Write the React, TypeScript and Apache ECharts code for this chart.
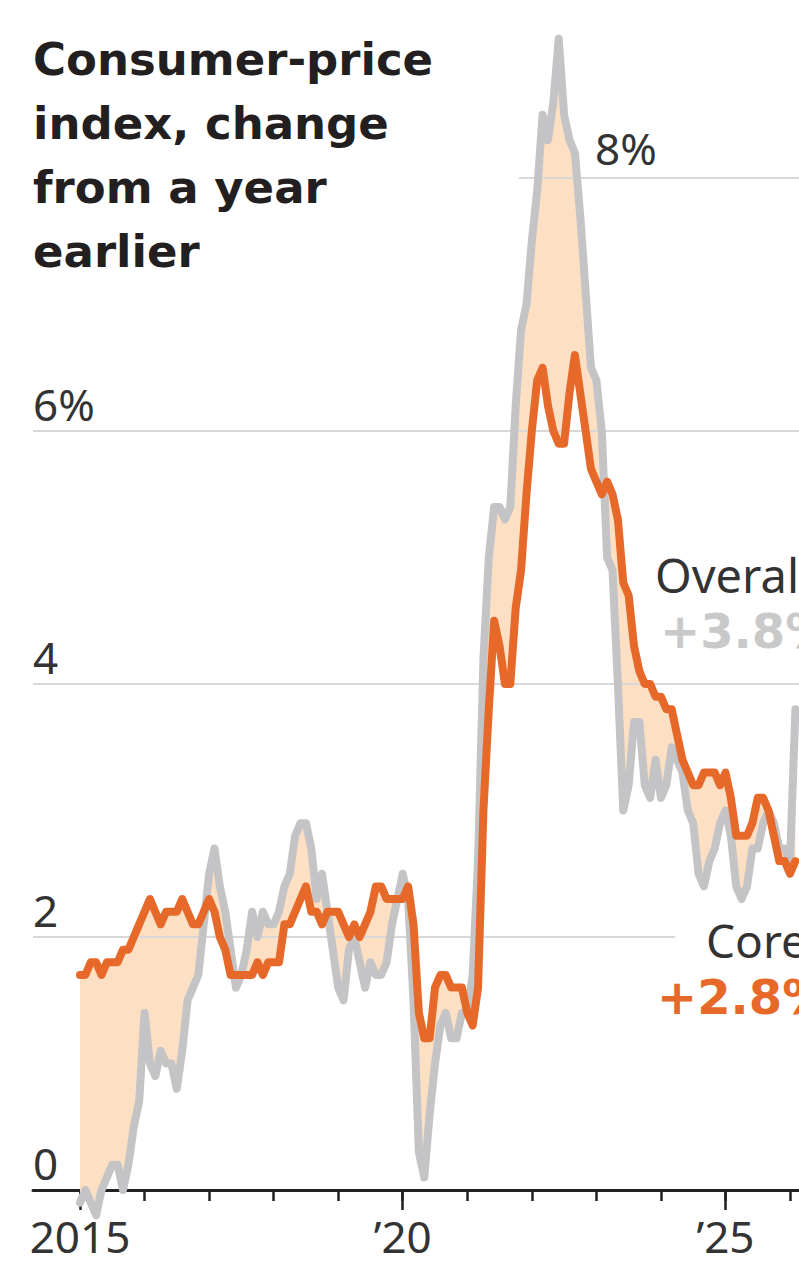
import React, { useEffect, useRef } from 'react';
import * as echarts from 'echarts';

// Monthly readings, Jan 2015 onward (percent change from a year earlier)
const startYear = 2015;
const overall = [
  -0.1, 0.0, -0.1, -0.2, 0.0, 0.1, 0.2, 0.2, 0.0, 0.2, 0.5, 0.7,
  1.4, 1.0, 0.9, 1.1, 1.0, 1.0, 0.8, 1.1, 1.5, 1.6, 1.7, 2.1,
  2.5, 2.7, 2.4, 2.2, 1.9, 1.6, 1.7, 1.9, 2.2, 2.0, 2.2, 2.1,
  2.1, 2.2, 2.4, 2.5, 2.8, 2.9, 2.9, 2.7, 2.3, 2.5, 2.2, 1.9,
  1.6, 1.5, 1.9, 2.0, 1.8, 1.6, 1.8, 1.7, 1.7, 1.8, 2.1, 2.3,
  2.5, 2.3, 1.5, 0.3, 0.1, 0.6, 1.0, 1.3, 1.4, 1.2, 1.2, 1.4,
  1.4, 1.7, 2.6, 4.2, 5.0, 5.4, 5.4, 5.3, 5.4, 6.2, 6.8, 7.0,
  7.5, 7.9, 8.5, 8.3, 8.6, 9.1, 8.5, 8.3, 8.2, 7.7, 7.1, 6.5,
  6.4, 6.0, 5.0, 4.9, 4.0, 3.0, 3.2, 3.7, 3.7, 3.2, 3.1, 3.4,
  3.1, 3.2, 3.5, 3.4, 3.3, 3.0, 2.9, 2.5, 2.4, 2.6, 2.7, 2.9,
  3.0, 2.8, 2.4, 2.3, 2.4, 2.7, 2.7, 2.9, 3.0, 2.9, 2.7, 2.7,
  2.6, 3.8,
];
const core = [
  1.7, 1.7, 1.8, 1.8, 1.7, 1.8, 1.8, 1.8, 1.9, 1.9, 2.0, 2.1,
  2.2, 2.3, 2.2, 2.1, 2.2, 2.2, 2.2, 2.3, 2.2, 2.1, 2.1, 2.2,
  2.3, 2.2, 2.0, 1.9, 1.7, 1.7, 1.7, 1.7, 1.7, 1.8, 1.7, 1.8,
  1.8, 1.8, 2.1, 2.1, 2.2, 2.3, 2.4, 2.2, 2.2, 2.1, 2.2, 2.2,
  2.2, 2.1, 2.0, 2.1, 2.0, 2.1, 2.2, 2.4, 2.4, 2.3, 2.3, 2.3,
  2.3, 2.4, 2.1, 1.4, 1.2, 1.2, 1.6, 1.7, 1.7, 1.6, 1.6, 1.6,
  1.4, 1.3, 1.6, 3.0, 3.8, 4.5, 4.3, 4.0, 4.0, 4.6, 4.9, 5.5,
  6.0, 6.4, 6.5, 6.2, 6.0, 5.9, 5.9, 6.3, 6.6, 6.3, 6.0, 5.7,
  5.6, 5.5, 5.6, 5.5, 5.3, 4.8, 4.7, 4.3, 4.1, 4.0, 4.0, 3.9,
  3.9, 3.8, 3.8, 3.6, 3.4, 3.3, 3.2, 3.2, 3.3, 3.3, 3.3, 3.2,
  3.3, 3.1, 2.8, 2.8, 2.8, 2.9, 3.1, 3.1, 3.0, 2.8, 2.6, 2.6,
  2.5, 2.6,
];
const yearTicks = [2015, 2016, 2017, 2018, 2019, 2020, 2021, 2022, 2023, 2024, 2025, 2026];
const labeledYears = [2015, 2020, 2025];
const yTickLabels: Record<number, string> = { 0: '0', 2: '2', 4: '4', 6: '6%', 8: '' };
const latestOverall = '+3.8%';
const latestCore = '+2.8%';

const FONT = "'Noto Sans', 'Open Sans', sans-serif";
const BOLD_FONT = "'DejaVu Sans', 'Noto Sans', sans-serif";
const X_MIN = 2014.272;
const X_MAX = 2026.139;
const GRAY = '#c4c4c7';
const ORANGE = '#e6692a';
const FILL = '#fde0c4';
const GRID = '#d8d8d8';

export default function App() {
  const ref = useRef<HTMLDivElement>(null);
  useEffect(() => {
    const chart = echarts.init(ref.current!, null, { renderer: 'svg' });
    const xs = overall.map((_, i) => startYear + i / 12);
    const overallPts = overall.map((v, i) => [xs[i], v]);
    const corePts = core.map((v, i) => [xs[i], v]);

    const baseX = {
      type: 'value',
      min: X_MIN,
      max: X_MAX,
      position: 'bottom',
      splitLine: { show: false },
    };

    chart.setOption({
      animation: false,
      backgroundColor: '#ffffff',
      grid: { left: 33, right: 0, top: 178, bottom: 84, containLabel: false },
      xAxis: [
        {
          ...baseX,
          axisLine: { show: true, onZero: false, lineStyle: { color: '#222', width: 3 } },
          axisTick: {
            show: true,
            customValues: yearTicks,
            length: 11,
            lineStyle: { color: '#222', width: 2.5 },
          },
          axisLabel: {
            show: true,
            customValues: labeledYears,
            margin: 24,
            fontFamily: FONT,
            fontSize: 44,
            color: '#333',
            formatter: (v: number) => (v === 2015 ? '2015' : '\u2019' + String(v).slice(2)),
          },
        },
        {
          ...baseX,
          axisLine: { show: false },
          axisTick: {
            show: true,
            customValues: labeledYears,
            length: 20,
            lineStyle: { color: '#222', width: 2.5 },
          },
          axisLabel: { show: false },
        },
      ],
      yAxis: {
        type: 'value',
        min: 0,
        max: 8,
        interval: 2,
        axisLine: { show: false },
        axisTick: { show: false },
        splitLine: { show: false },
        axisLabel: {
          inside: true,
          margin: 0,
          verticalAlign: 'bottom',
          lineHeight: 44,
          padding: [0, 0, 5, 0],
          fontFamily: FONT,
          fontSize: 44,
          color: '#333',
          formatter: (v: number) => yTickLabels[v] ?? '',
        },
      },
      series: [
        {
          type: 'custom',
          name: 'band',
          data: [[startYear, 0]],
          clip: false,
          silent: true,
          z: 1,
          renderItem: (_params: any, api: any) => {
            const upper = overallPts.map((p) => api.coord(p));
            const lowerRev = corePts.slice().reverse().map((p) => api.coord(p));
            return {
              type: 'polygon',
              shape: { points: upper.concat(lowerRev) },
              style: { fill: FILL, stroke: 'none' },
            };
          },
        },
        {
          type: 'line',
          name: 'Overall',
          data: overallPts,
          symbol: 'none',
          clip: false,
          z: 6,
          lineStyle: { color: GRAY, width: 8, cap: 'round', join: 'round' },
          markLine: {
            silent: true,
            symbol: ['none', 'none'],
            label: { show: false },
            z: 3,
            lineStyle: { color: GRID, width: 2, type: 'solid' },
            data: [
              [{ coord: [X_MIN, 2] }, { coord: [2024.22, 2] }],
              [{ coord: [X_MIN, 4] }, { coord: [X_MAX, 4] }],
              [{ coord: [X_MIN, 6] }, { coord: [X_MAX, 6] }],
              [{ coord: [2021.8, 8] }, { coord: [X_MAX, 8] }],
            ],
          },
        },
        {
          type: 'line',
          name: 'Core',
          data: corePts,
          symbol: 'none',
          clip: false,
          z: 7,
          lineStyle: { color: ORANGE, width: 8, cap: 'round', join: 'round' },
        },
      ],
      graphic: [
        {
          type: 'text',
          x: 33,
          y: 27,
          z: 20,
          style: {
            text: 'Consumer-price\nindex, change\nfrom a year\nearlier',
            font: `bold 45px ${BOLD_FONT}`,
            lineHeight: 64,
            fill: '#231f20',
            textVerticalAlign: 'top',
          },
        },
        {
          type: 'text',
          x: 595,
          y: 148,
          z: 20,
          style: { text: '8%', font: `44px ${FONT}`, fill: '#333', textVerticalAlign: 'middle' },
        },
        {
          type: 'text',
          x: 655,
          y: 575,
          z: 20,
          style: { text: 'Overall', font: `47px ${FONT}`, fill: '#333', textVerticalAlign: 'middle' },
        },
        {
          type: 'text',
          x: 660,
          y: 631,
          z: 20,
          style: { text: latestOverall, font: `bold 48px ${BOLD_FONT}`, fill: '#c9c9c9', textVerticalAlign: 'middle' },
        },
        {
          type: 'text',
          x: 706,
          y: 940,
          z: 20,
          style: { text: 'Core', font: `46px ${FONT}`, fill: '#333', textVerticalAlign: 'middle' },
        },
        {
          type: 'text',
          x: 657,
          y: 997,
          z: 20,
          style: { text: latestCore, font: `bold 48px ${BOLD_FONT}`, fill: ORANGE, textVerticalAlign: 'middle' },
        },
      ],
    });
    return () => chart.dispose();
  }, []);
  return (
    <div
      ref={ref}
      style={{ position: 'absolute', left: 0, top: 0, width: 799, height: 1274, background: '#fff' }}
    />
  );
}
